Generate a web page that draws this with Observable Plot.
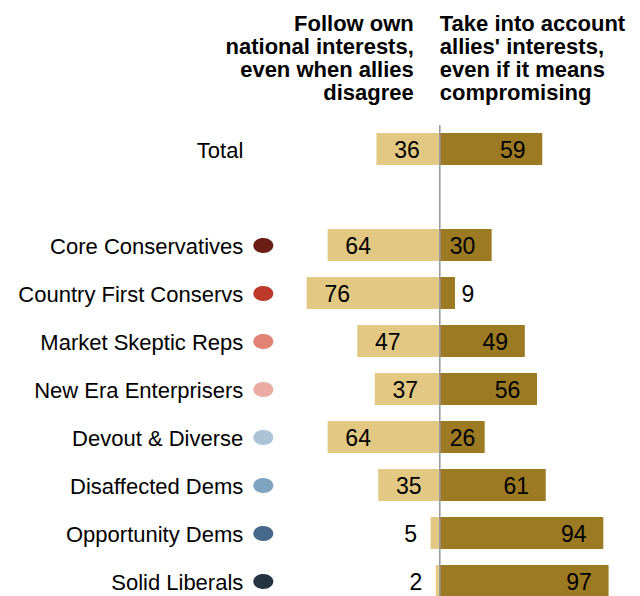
<!DOCTYPE html>
<html>
<head>
<meta charset="utf-8">
<script src="https://cdn.jsdelivr.net/npm/d3@7"></script>
<script src="https://cdn.jsdelivr.net/npm/@observablehq/plot@0.6"></script>
<style>
  html, body { margin: 0; padding: 0; background: #fff; }
  #chart svg { display: block; }
</style>
</head>
<body>
<div id="chart"></div>
<script>
const groups = ["Total", "Core Conservatives", "Country First Conservs", "Market Skeptic Reps", "New Era Enterprisers", "Devout & Diverse", "Disaffected Dems", "Opportunity Dems", "Solid Liberals"];
const ownInterests = [36, 64, 76, 47, 37, 64, 35, 5, 2];
const alliesInterests = [59, 30, 9, 49, 56, 26, 61, 94, 97];
const dotColors = [null, "#6a1e16", "#bd3a2a", "#e08274", "#eaaba2", "#aac3d6", "#7fa4c0", "#46698a", "#233443"];
const rowOrder = ["Total", " ", "Core Conservatives", "Country First Conservs", "Market Skeptic Reps", "New Era Enterprisers", "Devout & Diverse", "Disaffected Dems", "Opportunity Dems", "Solid Liberals"];
const headerLeft = "Follow own\nnational interests,\neven when allies\ndisagree";
const headerRight = "Take into account\nallies' interests,\neven if it means\ncompromising";

const data = groups.map((g, i) => ({group: g, own: ownInterests[i], allies: alliesInterests[i], color: dotColors[i]}));
const withDots = data.filter(d => d.color);

const ellipse = {
  draw(context, size) {
    const r = Math.sqrt(size / Math.PI);
    const rx = r * 1.15, ry = r * 0.86, k = 0.5523;
    context.moveTo(rx, 0);
    context.bezierCurveTo(rx, ry * k, rx * k, ry, 0, ry);
    context.bezierCurveTo(-rx * k, ry, -rx, ry * k, -rx, 0);
    context.bezierCurveTo(-rx, -ry * k, -rx * k, -ry, 0, -ry);
    context.bezierCurveTo(rx * k, -ry, rx, -ry * k, rx, 0);
    context.closePath();
  }
};

const light = "#e2c883";
const dark = "#9c7a23";
const F = 23;
const inside = 15;

const chart = Plot.plot({
  width: 640,
  height: 596,
  marginTop: 125,
  marginBottom: 0,
  marginLeft: 0,
  marginRight: 0,
  style: {fontFamily: "'Liberation Sans', Arial, sans-serif", color: "#000", background: "#fff"},
  x: {domain: [-100, 100], range: [264.8, 613.8], axis: null},
  y: {domain: rowOrder, range: [124.5, 604.5], paddingInner: 0.34, paddingOuter: 0.17, axis: null},
  marks: [
    Plot.barX(data, {y: "group", x1: 0, x2: d => -d.own, fill: light}),
    Plot.barX(data, {y: "group", x1: 0, x2: d => d.allies, fill: dark}),
    Plot.ruleX([0], {stroke: "#9a9a9a", strokeWidth: 1.6}),
    // value labels, left side
    Plot.text(data.filter(d => d.own >= inside), {y: "group", x: d => -(d.own - 17.2), text: d => String(d.own), fontSize: F, textAnchor: "middle", dy: 1}),
    Plot.text(data.filter(d => d.own < inside), {y: "group", x: d => -d.own, text: d => String(d.own), fontSize: F, textAnchor: "end", dx: -14, dy: 1}),
    // value labels, right side
    Plot.text(data.filter(d => d.allies >= inside), {y: "group", x: d => Math.max(d.allies - 17.2, 13), text: d => String(d.allies), fontSize: F, textAnchor: "middle", dy: 1}),
    Plot.text(data.filter(d => d.allies < inside), {y: "group", x: d => d.allies, text: d => String(d.allies), fontSize: F, textAnchor: "start", dx: 6, dy: 1}),
    // category labels and dots
    Plot.text(data, {y: "group", x: -100, text: "group", fontSize: 22, textAnchor: "end", dx: -22, dy: 1.5}),
    Plot.dot(withDots, {y: "group", x: -100, dx: -2, r: 8.7, symbol: ellipse, fill: "color", stroke: null}),
    // column headers
    Plot.text([headerLeft], {x: 0, frameAnchor: "top", text: d => d, textAnchor: "end", lineAnchor: "bottom", dx: -26, dy: -26, fontSize: 22, fontWeight: "bold", lineHeight: 1.045}),
    Plot.text([headerRight], {x: 0, frameAnchor: "top", text: d => d, textAnchor: "start", lineAnchor: "bottom", dx: 0, dy: -26, fontSize: 22, fontWeight: "bold", lineHeight: 1.045})
  ]
});
document.getElementById("chart").appendChild(chart);
</script>
</body>
</html>
